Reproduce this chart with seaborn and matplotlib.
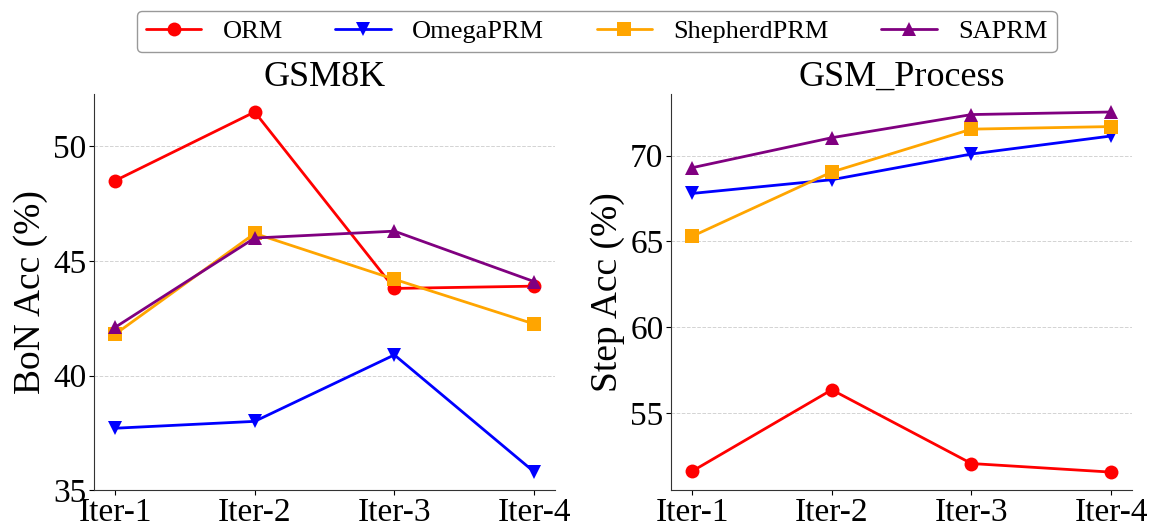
import matplotlib
matplotlib.use("Agg")
import matplotlib.pyplot as plt
import seaborn as sns
import pandas as pd

iters = ["Iter-1", "Iter-2", "Iter-3", "Iter-4"]
methods = ["ORM", "OmegaPRM", "ShepherdPRM", "SAPRM"]

gsm8k_orm = [48.5, 51.5, 43.8, 43.9]
gsm8k_omega = [37.7, 38.0, 40.9, 35.8]
gsm8k_shepherd = [41.8, 46.2, 44.2, 42.25]
gsm8k_saprm = [42.1, 46.0, 46.3, 44.1]

proc_orm = [51.6, 56.35, 52.05, 51.55]
proc_omega = [67.8, 68.6, 70.1, 71.15]
proc_shepherd = [65.3, 69.05, 71.55, 71.7]
proc_saprm = [69.3, 71.05, 72.4, 72.55]

colors = {"ORM": "red", "OmegaPRM": "blue", "ShepherdPRM": "orange", "SAPRM": "purple"}
markers = {"ORM": "o", "OmegaPRM": "v", "ShepherdPRM": "s", "SAPRM": "^"}

def make_df(vals):
    rows = []
    for m, v in zip(methods, vals):
        for it, y in zip(iters, v):
            rows.append({"Iter": it, "Method": m, "Acc": y})
    return pd.DataFrame(rows)

df1 = make_df([gsm8k_orm, gsm8k_omega, gsm8k_shepherd, gsm8k_saprm])
df2 = make_df([proc_orm, proc_omega, proc_shepherd, proc_saprm])

sns.set_style("ticks")
plt.rcParams["font.family"] = ["Liberation Serif", "DejaVu Serif"]
plt.rcParams.update({"text.color": "black", "axes.labelcolor": "black",
                     "xtick.color": "black", "ytick.color": "black",
                     "axes.edgecolor": "#333333"})

fig, axes = plt.subplots(1, 2, figsize=(11.54, 5.31), dpi=100)
plt.subplots_adjust(left=0.0815, right=0.981, top=0.823, bottom=0.077, wspace=0.252)

for ax, df, title, ylabel in [(axes[0], df1, "GSM8K", "BoN Acc (%)"),
                              (axes[1], df2, "GSM_Process", "Step Acc (%)")]:
    sns.lineplot(data=df, x="Iter", y="Acc", hue="Method", style="Method",
                 palette=colors, markers=markers, dashes=False, ax=ax,
                 linewidth=2, markersize=10, markeredgewidth=0, sort=False)
    ax.set_title(title, fontsize=26, pad=5)
    ax.set_ylabel(ylabel, fontsize=27, labelpad=4)
    ax.set_xlabel("")
    ax.tick_params(axis="both", labelsize=24, pad=2)
    ax.yaxis.grid(True, linestyle="--", color="lightgray", linewidth=0.7)
    ax.set_axisbelow(True)
    ax.margins(x=0.05, y=0.05)
    sns.despine(ax=ax)
    ax.get_legend().remove()

axes[0].set_yticks([35, 40, 45, 50])
axes[1].set_yticks([55, 60, 65, 70])

handles, labels = axes[0].get_legend_handles_labels()
fig.legend(handles, labels, loc="upper center", ncol=4, bbox_to_anchor=(0.517, 1.005),
           fontsize=19, frameon=True, fancybox=True, edgecolor="gray",
           handlelength=2.1, columnspacing=2.0, borderpad=0.35)

fig.savefig("out.png", dpi=100)
